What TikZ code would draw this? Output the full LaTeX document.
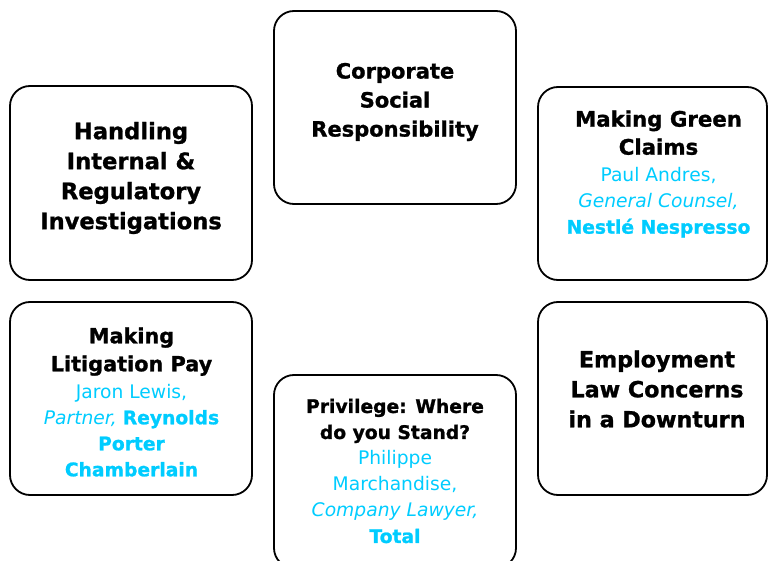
\documentclass[tikz,border=0pt]{standalone}
\usepackage{fontspec}
\setmainfont{DejaVu Sans}[BoldFeatures={FakeBold=1.2}]
\definecolor{speaker}{HTML}{00CCFF}
\newcommand{\blu}[1]{{\color{speaker}\fontsize{18.7bp}{26bp}\selectfont #1}}
\begin{document}
\begin{tikzpicture}[x=1bp,y=-1bp,
  topic/.style={draw=black, line width=1.8bp, rounded corners=20bp, rectangle, inner sep=0pt},
  caption/.style={align=center, inner sep=0pt, text=black},
]
\useasboundingbox (0,0) rectangle (768,561);
\clip (0,0) rectangle (768,561);
% boxes
\node[topic, minimum width=242bp, minimum height=194bp] (b1) at (131,183) {};
\node[topic, minimum width=242bp, minimum height=193bp] (b2) at (395,107.5) {};
\node[topic, minimum width=229bp, minimum height=193bp] (b3) at (652.5,183.5) {};
\node[topic, minimum width=242bp, minimum height=193bp] (b4) at (131,398.5) {};
\node[topic, minimum width=242bp, minimum height=193bp] (b5) at (395,471.5) {};
\node[topic, minimum width=229bp, minimum height=193bp] (b6) at (652.5,398.5) {};
% texts
\node[caption, font=\fontsize{22.6bp}{30bp}\selectfont\bfseries] (t1) at (131,178)
  {Handling\\Internal \&\\Regulatory\\Investigations};
\node[caption, font=\fontsize{21bp}{29bp}\selectfont\bfseries] (t2) at (395,102)
  {Corporate\\Social\\Responsibility};
\node[caption, font=\fontsize{18.7bp}{26bp}\selectfont] (t3) at (658.5,174)
  {{\fontsize{21.3bp}{26bp}\selectfont\bfseries Making Green}\\[2bp]
   {\fontsize{21.3bp}{26bp}\selectfont\bfseries Claims}\\[1bp]
   \blu{Paul Andres,}\\
   \blu{\itshape General Counsel,}\\
   \blu{\bfseries Nestlé Nespresso}};
\node[caption, font=\fontsize{18.7bp}{26bp}\selectfont] (t4) at (131.5,402)
  {{\fontsize{20.8bp}{26bp}\selectfont\bfseries Making}\\[2bp]
   {\fontsize{20.8bp}{26bp}\selectfont\bfseries Litigation Pay}\\[1bp]
   \blu{Jaron Lewis,}\\
   \blu{\itshape Partner,} \blu{\bfseries Reynolds}\\
   \blu{\bfseries Porter}\\
   \blu{\bfseries Chamberlain}};
\node[caption, font=\fontsize{18.7bp}{26bp}\selectfont] (t5) at (395,471)
  {{\bfseries Privilege: Where}\\
   {\bfseries do you Stand?}\\
   \blu{Philippe}\\
   \blu{Marchandise,}\\
   \blu{\itshape Company Lawyer,}\\
   \blu{\bfseries Total}};
\node[caption, font=\fontsize{22.2bp}{30bp}\selectfont\bfseries] (t6) at (657,389)
  {Employment\\Law Concerns\\in a Downturn};
\end{tikzpicture}
\end{document}
